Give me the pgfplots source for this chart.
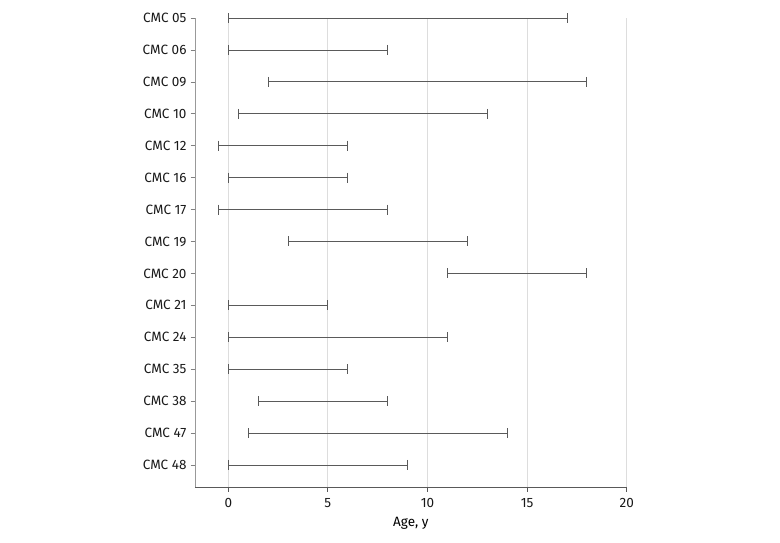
\documentclass[border=0pt]{standalone}
\usepackage{pgfplots}
\pgfplotsset{compat=1.18}
\usepackage{fontspec}
\setmainfont{Fira Sans}
\definecolor{barc}{HTML}{5A5A5A}
\definecolor{gridc}{HTML}{DDDDDD}
\begin{document}
\begin{tikzpicture}[x=1pt,y=1pt]
\path[use as bounding box] (0,0) rectangle (780,542);
\begin{axis}[
  at={(195pt,55pt)}, anchor=south west,
  scale only axis, width=431.7pt, height=469pt,
  xmin=-1.67, xmax=20, ymin=-0.69, ymax=14,
  axis x line*=bottom, axis y line*=left,
  x axis line style={draw=black!65, line width=0.8pt},
  y axis line style={draw=black!40, line width=1pt},
  xtick={0,5,10,15,20},
  ytick={0,...,14},
  yticklabels={CMC 48,CMC 47,CMC 38,CMC 35,CMC 24,CMC 21,CMC 20,CMC 19,CMC 17,CMC 16,CMC 12,CMC 10,CMC 09,CMC 06,CMC 05},
  tick align=outside, major tick length=4.5pt,
  x tick style={draw=black!65, line width=0.8pt},
  y tick style={draw=black!50, line width=0.7pt},
  xmajorgrids, major x grid style={draw=gridc, line width=1pt},
  ymajorgrids=false,
  tick label style={font=\fontsize{13.5}{16}\selectfont, text=black!90},
  /pgf/number format/assume math mode=true,
  yticklabel style={xshift=-0.5pt},
  xticklabel style={yshift=-3pt},
  xlabel={Age, y}, xlabel style={font=\fontsize{13.5}{16}\selectfont, yshift=-3pt},
  clip=false,
  bar/.style={color=barc, solid, line width=0.8pt, mark=|, mark size=5pt, mark options={solid, line width=0.8pt}},
]
\addplot[bar] coordinates {(0,14) (17,14)};
\addplot[bar] coordinates {(0,13) (8,13)};
\addplot[bar] coordinates {(2,12) (18,12)};
\addplot[bar] coordinates {(0.5,11) (13,11)};
\addplot[bar] coordinates {(-0.5,10) (6,10)};
\addplot[bar] coordinates {(0,9) (6,9)};
\addplot[bar] coordinates {(-0.5,8) (8,8)};
\addplot[bar] coordinates {(3,7) (12,7)};
\addplot[bar] coordinates {(11,6) (18,6)};
\addplot[bar] coordinates {(0,5) (5,5)};
\addplot[bar] coordinates {(0,4) (11,4)};
\addplot[bar] coordinates {(0,3) (6,3)};
\addplot[bar] coordinates {(1.5,2) (8,2)};
\addplot[bar] coordinates {(1,1) (14,1)};
\addplot[bar] coordinates {(0,0) (9,0)};
\end{axis}
\end{tikzpicture}
\end{document}
